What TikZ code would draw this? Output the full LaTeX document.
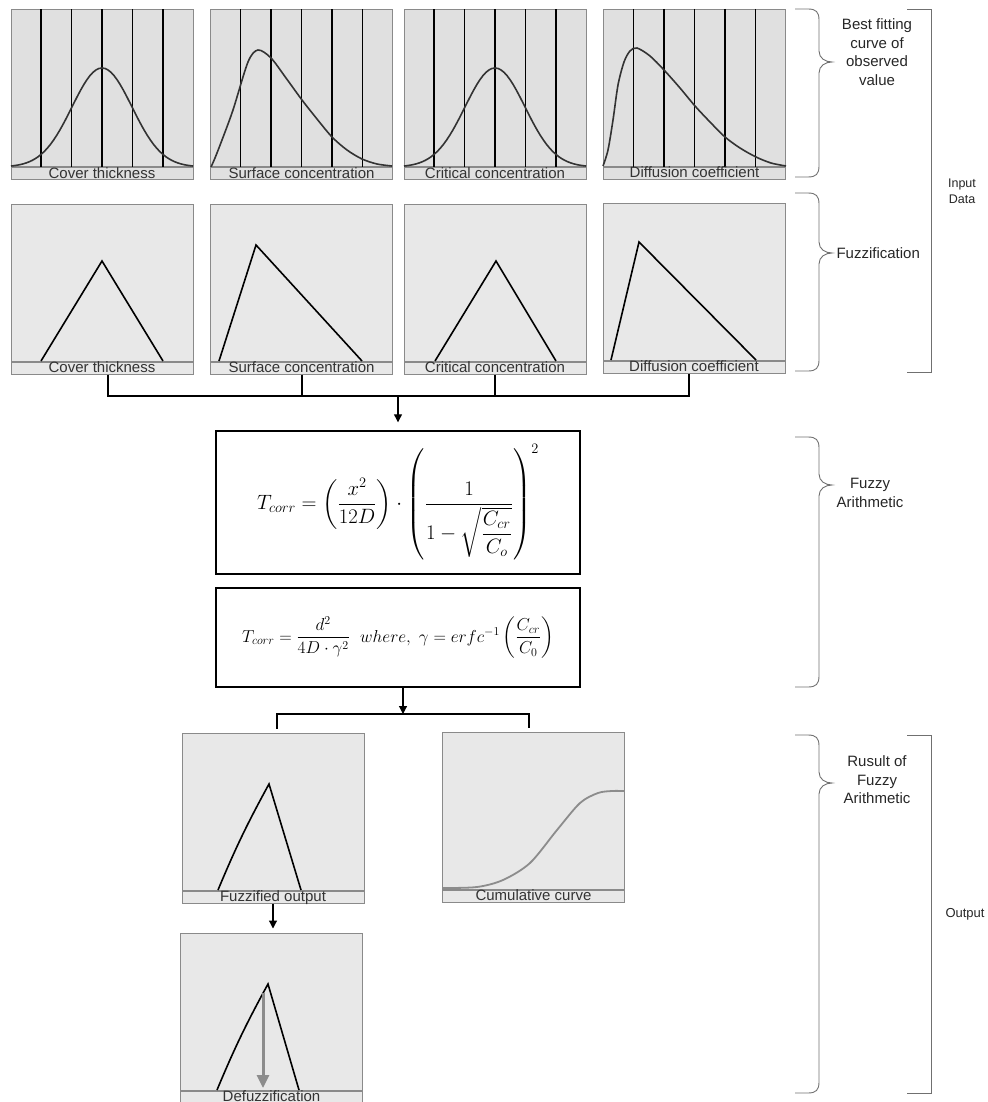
\documentclass[tikz,border=0pt]{standalone}
\usepackage{amsmath}
\usepackage{fontspec}
\setmainfont{Liberation Sans}
\usetikzlibrary{arrows.meta,calc}
\definecolor{frame}{HTML}{8A8A8A}
\definecolor{shadeA}{HTML}{E0E0E0}
\definecolor{shadeB}{HTML}{E8E8E8}
\definecolor{ink}{HTML}{333333}
\definecolor{soft}{HTML}{8C8C8C}
\definecolor{bracecol}{HTML}{707070}
\newcommand{\lblfont}{\fontsize{15}{15}\selectfont}
\newcommand{\sidefont}{\fontsize{15}{18.5}\selectfont}
\newcommand{\eqfont}{\fontsize{20}{24}\selectfont}

\begin{document}
\begin{tikzpicture}[x=1pt,y=-1pt,>={Triangle[length=8pt,width=8pt]},
 panel/.style={draw=frame,line width=1pt,fill=shadeB,inner sep=0pt,minimum width=182,minimum height=157},
 strip/.style={draw=frame,line width=1pt,fill=shadeB,inner sep=0pt,minimum width=182,minimum height=12,text height=9,text depth=0pt,anchor=north,font=\lblfont,text=ink},
 vline/.style={line width=1.1pt},
 bell/.style={draw=ink,line width=1.6pt},
 tri/.style={line width=1.6pt},
 link/.style={line width=1.2pt},
 eqbox/.style={draw,line width=1.4pt,minimum width=364,inner sep=0pt,font=\eqfont},
 brc/.style={draw=bracecol,line width=0.9pt},
 sidetext/.style={font=\sidefont,align=center,text=black!85}]
\useasboundingbox (0,0) rectangle (987,1102);

% observed values
\node[panel,fill=shadeA] (bf1) at (102,88.5) {};
\node[panel,fill=shadeA] (bf2) at (301.5,88.5) {};
\node[panel,fill=shadeA] (bf3) at (495,88.5) {};
\node[panel,fill=shadeA] (bf4) at (694.5,88) {};
\foreach \i in {1,...,4}
  \foreach \k in {1,...,5}
    \draw[vline] ($(bf\i.north west)!\k/6!(bf\i.north east)$) -- ($(bf\i.south west)!\k/6!(bf\i.south east)$);
\draw[bell] plot[domain=-91:91,samples=61] ({102+\x},{167-99*exp(-\x*\x/1800)});
\draw[bell] plot[smooth] coordinates {(211,167) (215,158) (222,140) (233,110) (248,62) (258,50) (271,58) (286,78) (302,100) (317,119) (332,137) (347,150) (362,159) (377,164) (392,166)};
\draw[bell] plot[domain=-91:91,samples=61] ({495+\x},{167-99*exp(-\x*\x/1800)});
\draw[bell] plot[smooth] coordinates {(603,166) (608,150) (613,120) (618,85) (624,62) (630,51) (637,48) (650,56) (664,70) (680,88) (695,106) (710,122) (725,137) (740,148) (756,157) (771,163) (786,166)};
\node[strip,fill=shadeA] (bfl1) at (bf1.south) {Cover thickness};
\node[strip,fill=shadeA] (bfl2) at (bf2.south) {Surface concentration};
\node[strip,fill=shadeA] (bfl3) at (bf3.south) {Critical concentration};
\node[strip,fill=shadeA] (bfl4) at (bf4.south) {Diffusion coefficient};

% fuzzification
\node[panel] (fz1) at (102,282.5) {};
\node[panel] (fz2) at (301.5,282.5) {};
\node[panel] (fz3) at (495,282.5) {};
\node[panel] (fz4) at (694,281.5) {};
\draw[tri] (41,361) -- (102,261) -- (163,361);
\draw[tri] (219,361) -- (256,245) -- (362,361);
\draw[tri] (435,361) -- (496,261) -- (556,361);
\draw[tri] (611,360) -- (639,242) -- (756,360);
\node[strip] (fzl1) at (fz1.south) {Cover thickness};
\node[strip] (fzl2) at (fz2.south) {Surface concentration};
\node[strip] (fzl3) at (fz3.south) {Critical concentration};
\node[strip] (fzl4) at (fz4.south) {Diffusion coefficient};

% fuzzy arithmetic
\node[eqbox,minimum height=143] (eqA) at (398,502.5) {$\displaystyle T_{corr}=\left(\frac{x^{2}}{12D}\right)\cdot\left(\frac{1}{1-\sqrt{\dfrac{C_{cr}}{C_{o}}}}\right)^{2}$};
\node[eqbox,minimum height=99,font=\fontsize{18.5}{22}\selectfont] (eqB) at (398,637.5) {$\displaystyle T_{corr}=\frac{d^{2}}{4D\cdot\gamma^{2}}\ \ where,\ \gamma=erfc^{-1}\left(\frac{C_{cr}}{C_{0}}\right)$};

% results
\node[panel] (fo) at (273,811.5) {};
\node[panel] (cu) at (533.5,810.5) {};
\node[panel] (df) at (271.5,1011.5) {};
\draw[tri] (218,890) to[bend left=3] (269,784) -- (301,890);
\draw[soft,line width=1.8pt] plot[smooth] coordinates {(443,888) (477,887) (503,880) (530,863) (557,830) (580,803) (598,793) (612,791) (624,791)};
\draw[tri] (217,1090) to[bend left=3] (268,984) -- (299,1090);
\draw[soft,line width=3pt,-{Triangle[length=13pt,width=12pt]}] (263,993) -- (263,1088);
\node[strip] (fol) at (fo.south) {Fuzzified output};
\node[strip] (cul) at (cu.south) {Cumulative curve};
\node[strip] (dfl) at (df.south) {Defuzzification};

% connectors
\coordinate (bus) at (398,396);
\draw[link] ([xshift=6pt]fzl1.south) |- (bus) -| ([xshift=-5pt]fzl4.south);
\draw[link] ([xshift=0.5pt]fzl2.south) -- ([xshift=0.5pt]fzl2.south |- bus);
\draw[link] (fzl3.south) -- (fzl3.south |- bus);
\draw[link,->,shorten >=8pt] (bus) -- (eqA.north);
\coordinate (split) at (403,714);
\draw[link,->] ([xshift=5pt]eqB.south) -- (split);
\draw[link,shorten <=4pt,shorten >=4pt] ([xshift=4pt]fo.north) |- (split) -| ([xshift=-4.5pt]cu.north);
\draw[link,->,shorten >=4pt] (fol.south) -- (fol.south |- df.north);

% braces and brackets
\foreach \t/\m/\b in {9/62/177,193/253/371,437/485/687,735/783/1093}
  \draw[brc] (795,\t) -- (808,\t) .. controls (816,\t) and (819,\t+3) .. (819,\t+11) -- (819,\m-11) .. controls (819,\m-4) and (825,\m) .. (832,\m) .. controls (825,\m) and (819,\m+4) .. (819,\m+11) -- (819,\b-11) .. controls (819,\b-3) and (816,\b) .. (808,\b) -- (795,\b);
\draw[brc] (907,9) -- (931,9) -- (931,372) -- (907,372);
\draw[brc] (907,735) -- (931,735) -- (931,1093) -- (907,1093);
\node[sidetext] (bfcap) at (877,52) {Best fitting\\curve of\\observed\\value};
\node[sidetext,anchor=west] (fzcap) at (833,253) {Fuzzification};
\node[sidetext,font=\fontsize{12.5}{16}\selectfont] (indata) at (962,191) {Input\\Data};
\node[sidetext] (facap) at (870,493) {Fuzzy\\Arithmetic};
\node[sidetext] (rescap) at (877,780) {Rusult of\\Fuzzy\\Arithmetic};
\node[sidetext,font=\fontsize{13}{16}\selectfont] (outcap) at (965,914) {Output};
\end{tikzpicture}
\end{document}
